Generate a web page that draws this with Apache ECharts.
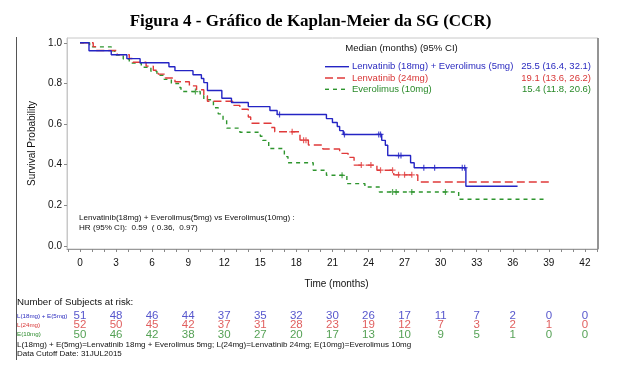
<!DOCTYPE html>
<html><head><meta charset="utf-8">
<script src="https://cdn.jsdelivr.net/npm/echarts@6/dist/echarts.min.js"></script>
<style>html,body{margin:0;padding:0;background:#fff}#c{width:621px;height:373px}</style>
</head><body><div id="c"></div>
<script>
// ---------- text ----------
const titleText = 'Figura 4 - Gráfico de Kaplan-Meier da SG (CCR)';
const seriesNames = ['Lenvatinib (18mg) + Everolimus (5mg)', 'Lenvatinib (24mg)', 'Everolimus (10mg)'];
const medianTexts = ['25.5 (16.4, 32.1)', '19.1 (13.6, 26.2)', '15.4 (11.8, 20.6)'];
const medianHeader = 'Median (months) (95% CI)';
const hrLines = ['Lenvatinib(18mg) + Everolimus(5mg) vs Everolimus(10mg) :', 'HR (95% CI):  0.59  ( 0.36,  0.97)'];
const riskHeader = 'Number of Subjects at risk:';
const riskRowLabels = ['L(18mg) + E(5mg)', 'L(24mg)', 'E(10mg)'];
const footLines = ['L(18mg) + E(5mg)=Lenvatinib 18mg + Everolimus 5mg; L(24mg)=Lenvatinib 24mg; E(10mg)=Everolimus 10mg', 'Data Cutoff Date: 31JUL2015'];

// ---------- axis ticks ----------
const xTickLabels = [0, 3, 6, 9, 12, 15, 18, 21, 24, 27, 30, 33, 36, 39, 42];
const xMinorTicks = [-1, 0, 1, 2, 3, 4, 5, 6, 7, 8, 9, 10, 11, 12, 13, 14, 15, 16, 17, 18, 19, 20, 21, 22, 23, 24, 25, 26, 27, 28, 29, 30, 31, 32, 33, 34, 35, 36, 37, 38, 39, 40, 41, 42, 43];
const yTickLabels = [0, 0.2, 0.4, 0.6, 0.8, 1.0];

// ---------- KM curves (time in months, survival after step) ----------
const timeL18 = [0, 0.75, 2.6, 3.9, 5.0, 7.4, 7.9, 9.4, 10.1, 10.3, 10.6, 11.8, 12.6, 14.0, 15.8, 16.4, 20.5, 21.0, 21.4, 21.6, 21.9, 25.1, 25.4, 25.6, 27.5, 27.8, 32.1];
const survL18 = [1.0, 0.961, 0.941, 0.922, 0.902, 0.882, 0.863, 0.843, 0.824, 0.804, 0.765, 0.727, 0.706, 0.686, 0.667, 0.647, 0.627, 0.608, 0.588, 0.568, 0.549, 0.52, 0.496, 0.445, 0.41, 0.385, 0.294];
const endL18 = 36.4;
const censorL18 = [16.6, 22.0, 24.85, 25.0, 26.5, 26.7, 28.6, 29.5, 31.8, 32.0];

const timeL24 = [0, 1.1, 1.3, 3.1, 4.1, 4.4, 5.5, 6.1, 6.5, 7.1, 7.9, 9.1, 9.7, 10.3, 10.6, 12.7, 13.3, 14.0, 14.2, 15.9, 16.2, 18.3, 19.0, 20.2, 21.6, 22.3, 22.8, 24.7, 26.1, 28.1];
const survL24 = [1.0, 0.981, 0.962, 0.942, 0.923, 0.904, 0.885, 0.865, 0.846, 0.827, 0.808, 0.788, 0.769, 0.74, 0.712, 0.692, 0.673, 0.635, 0.604, 0.583, 0.562, 0.521, 0.497, 0.477, 0.456, 0.436, 0.398, 0.373, 0.35, 0.315];
const endL24 = 39.2;
const censorL24 = [17.65, 18.6, 18.8, 23.4, 24.2, 25.0, 26.0, 26.5, 27.0, 27.6];

const timeE10 = [0, 0.8, 2.6, 2.9, 3.6, 4.1, 5.1, 5.9, 6.4, 7.0, 7.6, 8.2, 8.4, 10.0, 10.3, 11.1, 11.5, 11.9, 12.2, 13.3, 15.0, 15.2, 15.7, 17.0, 17.3, 19.4, 20.5, 22.2, 23.7, 24.9, 31.5];
const survE10 = [1.0, 0.98, 0.96, 0.94, 0.92, 0.90, 0.88, 0.86, 0.84, 0.82, 0.80, 0.78, 0.76, 0.74, 0.72, 0.68, 0.65, 0.62, 0.58, 0.56, 0.54, 0.52, 0.48, 0.44, 0.41, 0.373, 0.348, 0.307, 0.29, 0.266, 0.23];
const endE10 = 38.7;
const censorE10 = [9.6, 21.8, 26.0, 26.3, 27.6, 30.4];

// ---------- numbers at risk ----------
const riskTimes = [0, 3, 6, 9, 12, 15, 18, 21, 24, 27, 30, 33, 36, 39, 42];
const riskL18 = [51, 48, 46, 44, 37, 35, 32, 30, 26, 17, 11, 7, 2, 0, 0];
const riskL24 = [52, 50, 45, 42, 37, 31, 28, 23, 19, 12, 7, 3, 2, 1, 0];
const riskE10 = [50, 46, 42, 38, 30, 27, 20, 17, 13, 10, 9, 5, 1, 0, 0];

// ---------- styles ----------
const colors = ['#2424c4', '#e03a3a', '#2e952e'];
const textColors = ['#2a2abf', '#d83636', '#2a8a2a'];
const dashes = ['solid', [8, 4], [4, 4]];
const SANS = 'Liberation Sans, Arial, sans-serif';
const X_MIN = -1.08, X_MAX = 43.09, Y_MIN = -0.0148, Y_MAX = 1.0236;

function stepData(times, surv, end) {
  const d = times.map((t, i) => [t, surv[i]]);
  d.push([end, surv[surv.length - 1]]);
  return d;
}
function survAt(times, surv, t) {
  let s = surv[0];
  for (let i = 0; i < times.length; i++) if (times[i] <= t) s = surv[i];
  return s;
}
const curves = [
  [timeL18, survL18, endL18, censorL18],
  [timeL24, survL24, endL24, censorL24],
  [timeE10, survE10, endE10, censorE10]
];
const risks = [riskL18, riskL24, riskE10];

const series = [];
curves.forEach((c, k) => {
  series.push({
    type: 'line', name: seriesNames[k], xAxisIndex: 0, yAxisIndex: 0,
    data: stepData(c[0], c[1], c[2]), step: 'end', symbol: 'none',
    lineStyle: { color: colors[k], width: 1.4, type: dashes[k] }, z: 3 - k + 2
  });
  series.push({
    type: 'scatter', xAxisIndex: 0, yAxisIndex: 0,
    data: c[3].map(t => [t, survAt(c[0], c[1], t)]),
    symbol: 'path://M5 0 L5 10 M0 5 L10 5', symbolSize: 6,
    itemStyle: { color: 'none', borderColor: colors[k], borderWidth: 1.2 }, z: 6
  });
  series.push({
    type: 'scatter', xAxisIndex: 1, yAxisIndex: 1,
    data: riskTimes.map((t, i) => [t, k, risks[k][i]]),
    symbolSize: 0.1, itemStyle: { color: 'transparent' },
    label: { show: true, position: 'inside', formatter: p => String(p.value[2]),
      color: textColors[k], fontSize: 11.5, fontFamily: SANS }
  });
});

// ---------- graphic overlay ----------
const graphic = [
  { type: 'line', shape: { x1: 16.5, y1: 37, x2: 16.5, y2: 360 }, style: { stroke: '#555', lineWidth: 1 } },
  { type: 'line', shape: { x1: 598, y1: 38, x2: 598, y2: 249 }, style: { stroke: '#808080', lineWidth: 1.6 } },
  { type: 'text', style: { text: medianHeader, x: 401.5, y: 48.3, align: 'center', verticalAlign: 'middle', fontSize: 9.6, fontFamily: SANS, fill: '#111' } }
];
const legendY = [66.7, 78, 89.3];
seriesNames.forEach((n, k) => {
  graphic.push({ type: 'line', shape: { x1: 325, y1: legendY[k], x2: 349, y2: legendY[k] },
    style: { stroke: colors[k], lineWidth: 1.4, lineDash: k === 0 ? null : dashes[k] } });
  graphic.push({ type: 'text', style: { text: n, x: 352, y: legendY[k], align: 'left', verticalAlign: 'middle', fontSize: 9.5, fontFamily: SANS, fill: textColors[k] } });
  graphic.push({ type: 'text', style: { text: medianTexts[k], x: 591, y: legendY[k], align: 'right', verticalAlign: 'middle', fontSize: 9.5, fontFamily: SANS, fill: textColors[k] } });
});
hrLines.forEach((t, i) => {
  graphic.push({ type: 'text', style: { text: t, x: 79, y: 217.3 + i * 10, align: 'left', verticalAlign: 'middle', fontSize: 8.1, fontFamily: SANS, fill: '#111' } });
});
graphic.push({ type: 'text', style: { text: riskHeader, x: 17, y: 302.5, align: 'left', verticalAlign: 'middle', fontSize: 9.7, fontFamily: SANS, fill: '#111' } });
const rowY = [316, 325.3, 334.7];
riskRowLabels.forEach((t, k) => {
  graphic.push({ type: 'text', style: { text: t, x: 17, y: rowY[k], align: 'left', verticalAlign: 'middle', fontSize: 6.2, fontFamily: SANS, fill: textColors[k] } });
});
footLines.forEach((t, i) => {
  graphic.push({ type: 'text', style: { text: t, x: 17, y: 344.3 + i * 9, align: 'left', verticalAlign: 'middle', fontSize: 8, fontFamily: SANS, fill: '#111' } });
});

const chart = echarts.init(document.getElementById('c'), null, { renderer: 'canvas' });
chart.setOption({
  animation: false,
  backgroundColor: '#fff',
  title: { text: titleText, left: 'center', top: 8,
    textStyle: { fontFamily: 'Liberation Serif, Times New Roman, serif', fontWeight: 'bold', fontSize: 17, color: '#000' } },
  grid: [
    { left: 67, right: 23, top: 38, bottom: 124, show: true, borderColor: '#c8c8c8', borderWidth: 1 },
    { left: 67, right: 23, top: 311.3, height: 28 }
  ],
  xAxis: [
    { type: 'value', gridIndex: 0, min: X_MIN, max: X_MAX,
      name: 'Time (months)', nameLocation: 'middle', nameGap: 30,
      nameTextStyle: { fontSize: 10, fontFamily: SANS, color: '#111', padding: [0, 0, 0, 8] },
      axisLine: { show: true, onZero: false, lineStyle: { color: '#999', width: 1 } },
      axisTick: { show: true, customValues: xMinorTicks, length: 3, lineStyle: { color: '#888' } },
      axisLabel: { customValues: xTickLabels, margin: 9, fontSize: 10, fontFamily: SANS, color: '#111' },
      splitLine: { show: false } },
    { type: 'value', gridIndex: 1, min: X_MIN, max: X_MAX, show: false }
  ],
  yAxis: [
    { type: 'value', gridIndex: 0, min: Y_MIN, max: Y_MAX,
      name: 'Survival Probability', nameLocation: 'middle', nameGap: 29,
      nameTextStyle: { fontSize: 10, fontFamily: SANS, color: '#111' },
      axisLine: { show: true, onZero: false, lineStyle: { color: '#c8c8c8' } },
      axisTick: { show: true, customValues: yTickLabels, length: 3, lineStyle: { color: '#888' } },
      axisLabel: { customValues: yTickLabels, margin: 5, fontSize: 10, fontFamily: SANS, color: '#111', formatter: v => v.toFixed(1) },
      splitLine: { show: false } },
    { type: 'category', gridIndex: 1, data: riskRowLabels, inverse: true, show: false }
  ],
  series: series,
  graphic: graphic
});
</script></body></html>
